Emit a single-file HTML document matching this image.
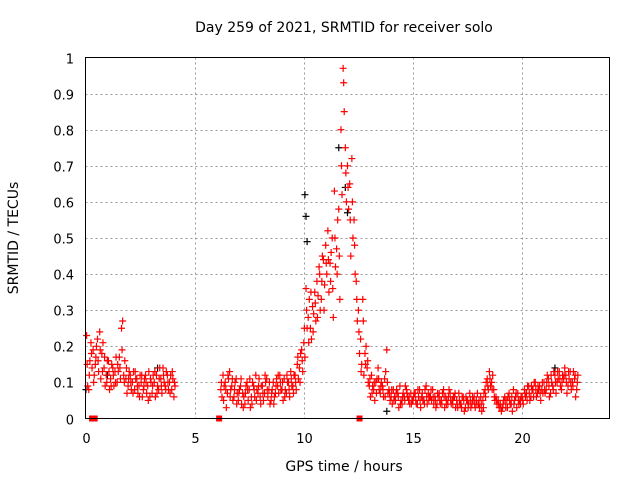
<!DOCTYPE html>
<html><head><meta charset="utf-8"><style>
body{margin:0;background:#fff}
svg text{font-family:"DejaVu Sans","Liberation Sans",sans-serif;font-size:13px;fill:#000}
svg text.t{font-size:14px}
</style></head><body>
<svg id="c" width="640" height="480" xmlns="http://www.w3.org/2000/svg">
<text class="t" x="344" y="32" text-anchor="middle">Day 259 of 2021, SRMTID for receiver solo</text>
<text class="t" x="344" y="471" text-anchor="middle">GPS time / hours</text>
<text class="t" transform="translate(18,238) rotate(-90)" text-anchor="middle">SRMTID / TECUs</text>
<g id="grid"></g><g id="ticks"></g><g id="pts"></g>
<rect x="85.5" y="57.5" width="524" height="361" fill="none" stroke="#000"/>
</svg>
<script>
const xTicks=[0,5,10,15,20];
const yTicks=[0,0.1,0.2,0.3,0.4,0.5,0.6,0.7,0.8,0.9,1];
const yTickLabels=["0","0.1","0.2","0.3","0.4","0.5","0.6","0.7","0.8","0.9","1"];
const seg1T=[0.05,0.15,0.25,0.35,0.45,0.55,0.65,0.75,0.85,0.95,1.05,1.15,1.25,1.35,1.45,1.55,1.65,1.75,1.85,1.95,2.05,2.15,2.25,2.35,2.45,2.55,2.65,2.75,2.85,2.95,3.05,3.15,3.25,3.35,3.45,3.55,3.65,3.75,3.85,3.95,4.05];
const seg1A=[.23,.08,.21,.19,.15,.22,.24,.18,.14,.12,.16,.11,.14,.13,.10,.17,.25,.12,.11,.09,.12,.10,.08,.11,.09,.10,.08,.12,.09,.06,.07,.10,.12,.08,.11,.14,.09,.12,.10,.08,.06];
const seg1B=[.09,.16,.14,.12,.20,.13,.11,.21,.09,.16,.08,.15,.09,.17,.13,.11,.27,.16,.07,.13,.08,.13,.11,.07,.12,.06,.11,.07,.13,.10,.12,.06,.09,.14,.07,.10,.13,.08,.12,.11,.09];
const seg1C=[.15,.12,.18,.10,.17,.16,.19,.13,.17,.10,.13,.09,.12,.10,.15,.14,.19,.10,.14,.11,.10,.07,.13,.09,.06,.12,.09,.10,.05,.11,.09,.13,.07,.11,.09,.12,.08,.10,.07,.13,.10];
const seg2T=[6.2,6.3,6.4,6.5,6.6,6.7,6.8,6.9,7.0,7.1,7.2,7.3,7.4,7.5,7.6,7.7,7.8,7.9,8.0,8.1,8.2,8.3,8.4,8.5,8.6,8.7,8.8,8.9,9.0,9.1,9.2,9.3,9.4,9.5,9.6,9.7,9.8,9.9,10.0,10.1,10.2,10.3,10.4,10.5,10.6,10.7,10.8,10.9,11.0,11.1,11.2,11.3,11.4,11.5,11.6,11.7,11.8,11.9,12.0,12.1,12.2,12.3,12.4,12.5,12.6,12.7,12.8,12.9,13.0,13.1,13.2,13.3,13.4,13.5,13.6,13.7,13.8,13.9,14.0,14.1,14.2,14.3,14.4,14.5,14.6,14.7,14.8,14.9,15.0,15.1,15.2,15.3,15.4,15.5,15.6,15.7,15.8,15.9,16.0,16.1,16.2,16.3,16.4,16.5,16.6,16.7,16.8,16.9,17.0,17.1,17.2,17.3,17.4,17.5,17.6,17.7,17.8,17.9,18.0,18.1,18.2,18.3,18.4,18.5,18.6,18.7,18.8,18.9,19.0,19.1,19.2,19.3,19.4,19.5,19.6,19.7,19.8,19.9,20.0,20.1,20.2,20.3,20.4,20.5,20.6,20.7,20.8,20.9,21.0,21.1,21.2,21.3,21.4,21.5,21.6,21.7,21.8,21.9,22.0,22.1,22.2,22.3,22.4,22.5];
const seg2A=[.08,.12,.10,.07,.13,.09,.06,.11,
.05,.09,.07,.04,.10,.08,.06,.09,.12,.07,
.06,.09,.07,.11,.08,.05,.10,.07,.09,.12,
.08,.11,.07,.10,.13,.09,.12,.15,.14,.19,
.21,.36,.28,.25,.31,.35,.38,.42,.33,.44,
.48,.52,.43,.50,.63,.47,.58,.80,.97,.75,
.70,.65,.72,.55,.38,.30,.22,.33,.18,.14,
.09,.12,.08,.10,.14,.07,.09,.11,.19,.08,
.06,.08,.05,.07,.09,.04,.06,.08,.05,.07,
.05,.07,.04,.08,.06,.05,.09,.07,.06,.08,
.06,.04,.07,.05,.08,.06,.04,.07,.05,.06,
.05,.07,.04,.06,.03,.05,.07,.04,.06,.05,
.04,.06,.05,.08,.11,.13,.10,.08,.06,.05,
.04,.03,.06,.05,.07,.04,.08,.06,.07,.05,
.06,.08,.07,.09,.06,.08,.10,.07,.09,.08,
.10,.08,.11,.07,.09,.12,.10,.13,.08,.11,
.12,.09,.13,.10,.11,.08];
const seg2B=[.06,.09,.03,.11,.08,.05,.10,.07,
.08,.04,.06,.09,.05,.03,.10,.06,.08,.11,
.09,.05,.10,.06,.04,.08,.06,.11,.07,.08,
.05,.08,.10,.06,.09,.12,.08,.11,.18,.13,
.17,.25,.33,.22,.29,.27,.34,.30,.45,.37,
.40,.35,.46,.28,.42,.55,.33,.62,.85,.60,
.58,.45,.50,.40,.27,.18,.15,.12,.20,.10,
.06,.09,.05,.11,.08,.10,.06,.13,.07,.05,
.04,.06,.08,.03,.05,.07,.09,.06,.04,.05,
.07,.04,.06,.03,.05,.08,.04,.06,.05,.04,
.03,.06,.04,.07,.03,.05,.08,.04,.06,.03,
.03,.04,.06,.02,.05,.04,.03,.05,.03,.07,
.03,.02,.07,.10,.08,.09,.12,.05,.04,.03,
.02,.05,.03,.06,.04,.02,.05,.03,.04,.06,
.04,.06,.09,.05,.08,.10,.06,.08,.05,.07,
.07,.12,.06,.10,.13,.07,.11,.09,.12,.14,
.07,.11,.08,.13,.06,.12];
const seg2C=[.10,.05,.08,.12,.06,.11,.08,.04,
.07,.11,.03,.07,.08,.11,.04,.08,.05,.09,
.04,.07,.12,.08,.10,.07,.04,.09,.12,.10,
.10,.06,.12,.08,.11,.07,.10,.17,.10,.16,
.25,.30,.21,.35,.24,.32,.28,.40,.38,.30,
.43,.44,.38,.36,.50,.40,.45,.70,.93,.68,
.64,.55,.60,.48,.33,.24,.13,.27,.15,.16,
.11,.07,.10,.07,.11,.09,.08,.06,.10,.07,
.08,.05,.07,.06,.04,.06,.05,.07,.06,.04,
.06,.05,.08,.05,.07,.04,.06,.05,.08,.06,
.05,.07,.05,.04,.06,.04,.06,.05,.04,.07,
.04,.05,.03,.05,.06,.03,.05,.06,.04,.04,
.05,.04,.03,.06,.09,.11,.08,.06,.05,.04,
.03,.04,.05,.03,.05,.06,.04,.07,.05,.04,
.05,.07,.05,.07,.09,.06,.08,.09,.07,.10,
.08,.10,.09,.12,.08,.10,.13,.11,.10,.12,
.10,.13,.10,.09,.12,.10];
const blackT=[0.02,1.0,10.05,10.1,10.15,11.6,11.9,12.0,13.8,3.3,21.5];
const blackV=[.08,.12,.62,.56,.49,.75,.64,.57,.02,.14,.14];
const squareT=[0.3,0.42,6.12,12.55];
const squareV=[0,0,0,0];

const X0=85.5,X1=609.5,Y0=418.5,Y1=57.5;
const xs=v=>X0+(X1-X0)*v/24;
const ys=v=>Y0-(Y0-Y1)*v;
const NS="http://www.w3.org/2000/svg";
const G=document.getElementById('grid'),T=document.getElementById('ticks'),P=document.getElementById('pts');
function mk(tag,at,par){const e=document.createElementNS(NS,tag);for(const k in at)e.setAttribute(k,at[k]);par.appendChild(e);return e;}
xTicks.forEach(v=>{const x=Math.round(xs(v))+0.5;
 if(v>0){const l=mk('line',{x1:x,x2:x,y1:Y1,y2:Y0,stroke:'#999','stroke-dasharray':'2,3'},G);
 
 }
 const t=mk('text',{x:x,y:443,'text-anchor':'middle'},T);t.textContent=v;
 
 });
yTicks.forEach((v,i)=>{const y=Math.round(ys(v))+0.5;
 if(v>0&&v<1){const l=mk('line',{x1:X0,x2:X1,y1:y,y2:y,stroke:'#999','stroke-dasharray':'2,3'},G);
 
 }
 const t=mk('text',{x:74,y:y+5,'text-anchor':'end'},T);t.textContent=yTickLabels[i];
 
 });
function cross(t,v,col){const x=xs(t),y=ys(v);
 const p=mk('path',{d:`M${x-3.5} ${y}h7M${x} ${y-3.5}v7`,stroke:col,'stroke-width':1.2,fill:'none'},P);
 
 }
blackT.forEach((t,i)=>cross(t,blackV[i],'#000'));
seg1T.forEach((t,i)=>{cross(t,seg1A[i],'#f00');cross(t+0.05,seg1B[i],'#f00');cross(t+0.025,seg1C[i],'#f00');});
seg2T.forEach((t,i)=>{cross(t,seg2A[i],'#f00');cross(t+0.05,seg2B[i],'#f00');cross(t+0.025,seg2C[i],'#f00');});
squareT.forEach((t,i)=>{const r=mk('rect',{x:xs(t)-3,y:ys(squareV[i])-3,width:6,height:6,fill:'#f00'},P);
 
 });
</script>
</body></html>
